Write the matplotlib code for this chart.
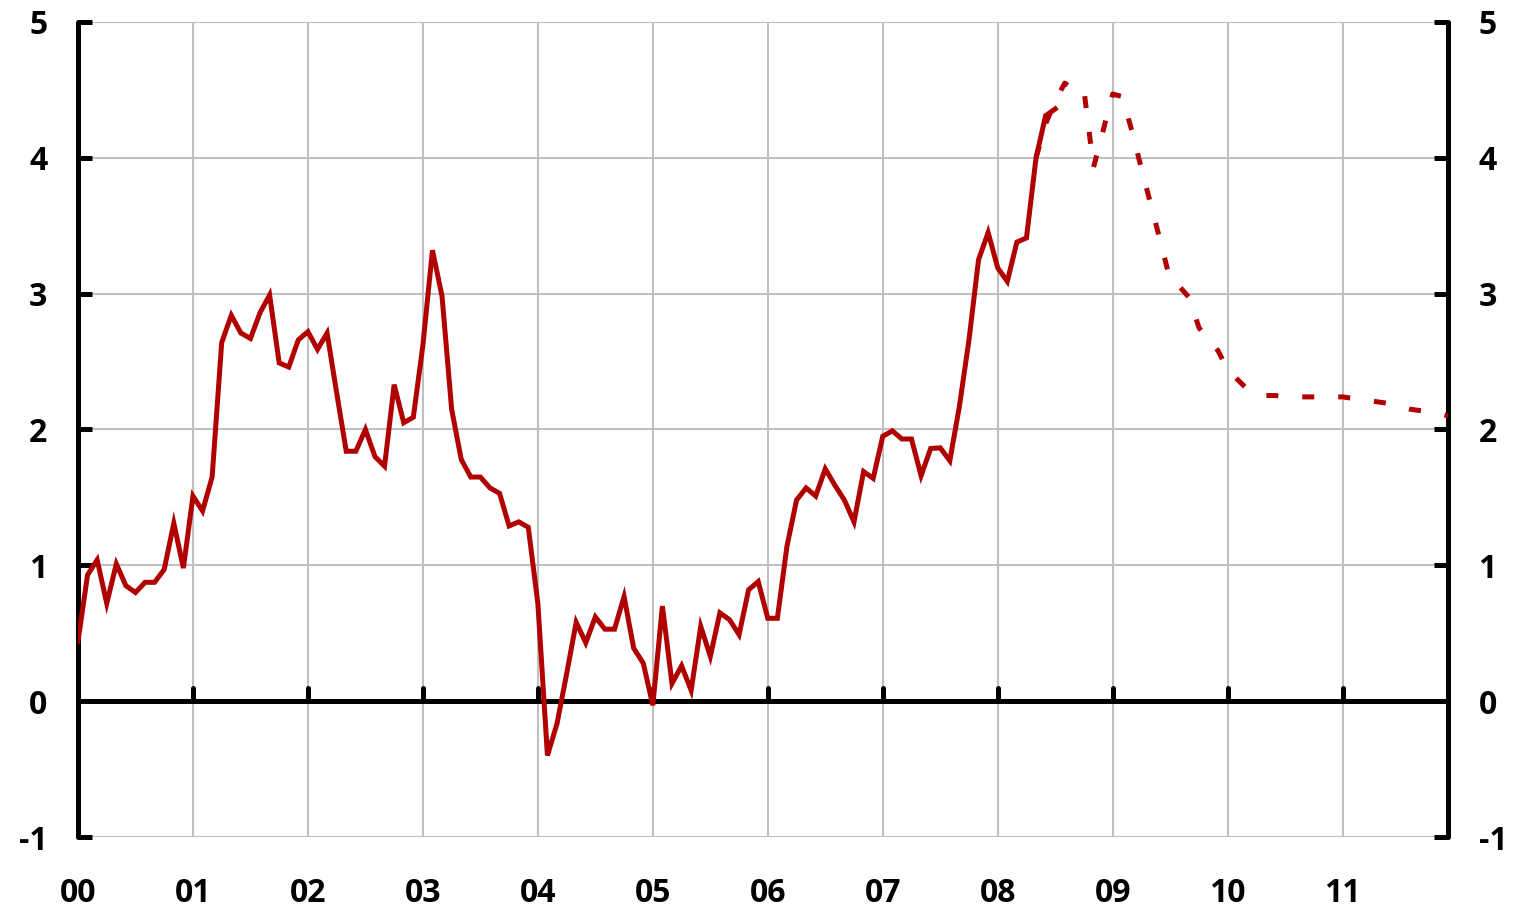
import matplotlib
matplotlib.use("Agg")
import matplotlib.pyplot as plt
import numpy as np

# ---- data ----
start_year = 2000
# monthly actual values, Jan 2000 - Jul 2008
actual = [
    0.44, 0.93, 1.04, 0.72, 1.01, 0.85, 0.80, 0.875, 0.875, 0.97, 1.31, 0.98,   # 2000
    1.51, 1.40, 1.65, 2.64, 2.84, 2.71, 2.67, 2.86, 2.99, 2.49, 2.46, 2.66,     # 2001
    2.72, 2.59, 2.71, 2.27, 1.84, 1.84, 2.00, 1.80, 1.73, 2.33, 2.05, 2.09,     # 2002
    2.62, 3.32, 2.98, 2.15, 1.78, 1.65, 1.65, 1.57, 1.53, 1.29, 1.32, 1.28,     # 2003
    0.72, -0.40, -0.165, 0.20, 0.58, 0.43, 0.62, 0.53, 0.53, 0.77, 0.39, 0.28,  # 2004
    -0.03, 0.70, 0.13, 0.26, 0.08, 0.55, 0.33, 0.65, 0.60, 0.49, 0.82, 0.88,    # 2005
    0.61, 0.61, 1.14, 1.48, 1.57, 1.51, 1.71, 1.59, 1.48, 1.32, 1.69, 1.64,     # 2006
    1.95, 1.99, 1.93, 1.93, 1.66, 1.86, 1.865, 1.77, 2.17, 2.66, 3.25, 3.45,    # 2007
    3.19, 3.09, 3.38, 3.41, 4.00, 4.31, 4.36,                                   # 2008
]
# monthly forecast values, May 2008 - Dec 2011
forecast_start_month = 4  # months after Jan 2008
forecast = [
    4.00, 4.25, 4.42, 4.55, 4.50, 4.50, 3.93, 4.20,                             # 2008
    4.47, 4.45, 4.20, 3.92, 3.65, 3.38, 3.10, 3.05, 2.97, 2.75, 2.66, 2.58,     # 2009
    2.44, 2.37, 2.30, 2.26, 2.25, 2.25, 2.24, 2.24, 2.24, 2.24, 2.24, 2.24,     # 2010
    2.24, 2.23, 2.22, 2.21, 2.20, 2.19, 2.17, 2.15, 2.14, 2.13, 2.12, 2.10,     # 2011
]
year_labels = ["00", "01", "02", "03", "04", "05", "06", "07", "08", "09", "10", "11"]
y_ticks = [-1, 0, 1, 2, 3, 4, 5]

# ---- positions ----
x_actual = start_year + np.arange(len(actual)) / 12.0
x_fore = 2008 + (forecast_start_month + np.arange(len(forecast))) / 12.0
year_pos = start_year + np.arange(len(year_labels))

plt.rcParams['font.family'] = ['Open Sans', 'DejaVu Sans']
plt.rcParams['font.weight'] = 'bold'

fig = plt.figure(figsize=(15.17, 9.10), dpi=100)
ax = fig.add_axes([78/1517, 73/910, (1448-78)/1517, (837-22)/910])

red = '#B00000'
grid_c = '#C0C0C0'

# grid
for yv in y_ticks:
    ax.axhline(yv, color=grid_c, lw=1.5, zorder=1)
for xv in year_pos[1:]:
    ax.axvline(xv, color=grid_c, lw=1.5, zorder=1)

# zero line with year stubs
ax.axhline(0, color='black', lw=3.6, zorder=2)
ax.vlines(year_pos[1:], 0, 0.095, color='black', lw=3.6, zorder=2,
          capstyle='round')

ax.plot(x_actual, actual, color=red, lw=3.6, zorder=4, solid_joinstyle='miter')
ax.plot(x_fore, forecast, color=red, lw=3.6, zorder=3,
        linestyle=(0, (2.4, 4.8)), dash_capstyle='butt')

ax.set_xlim(2000, 2000 + 143/12)
ax.set_ylim(-1, 5)

ax.set_xticks(year_pos)
ax.set_xticklabels(year_labels, fontsize=23, fontweight='bold')
ax.tick_params(axis='x', length=0, pad=29)

ax.set_yticks(y_ticks)
ax.set_yticklabels([str(v) for v in y_ticks], fontsize=23, fontweight='bold')
ax.tick_params(axis='y', direction='in', length=10, width=3.6, pad=22,
               left=True, right=True, labelleft=True, labelright=True)

for s in ['top', 'bottom']:
    ax.spines[s].set_visible(False)
for s in ['left', 'right']:
    ax.spines[s].set_linewidth(3.6)
    ax.spines[s].set_color('black')
    ax.spines[s].set_capstyle('round')

fig.savefig('out.png', dpi=100)
